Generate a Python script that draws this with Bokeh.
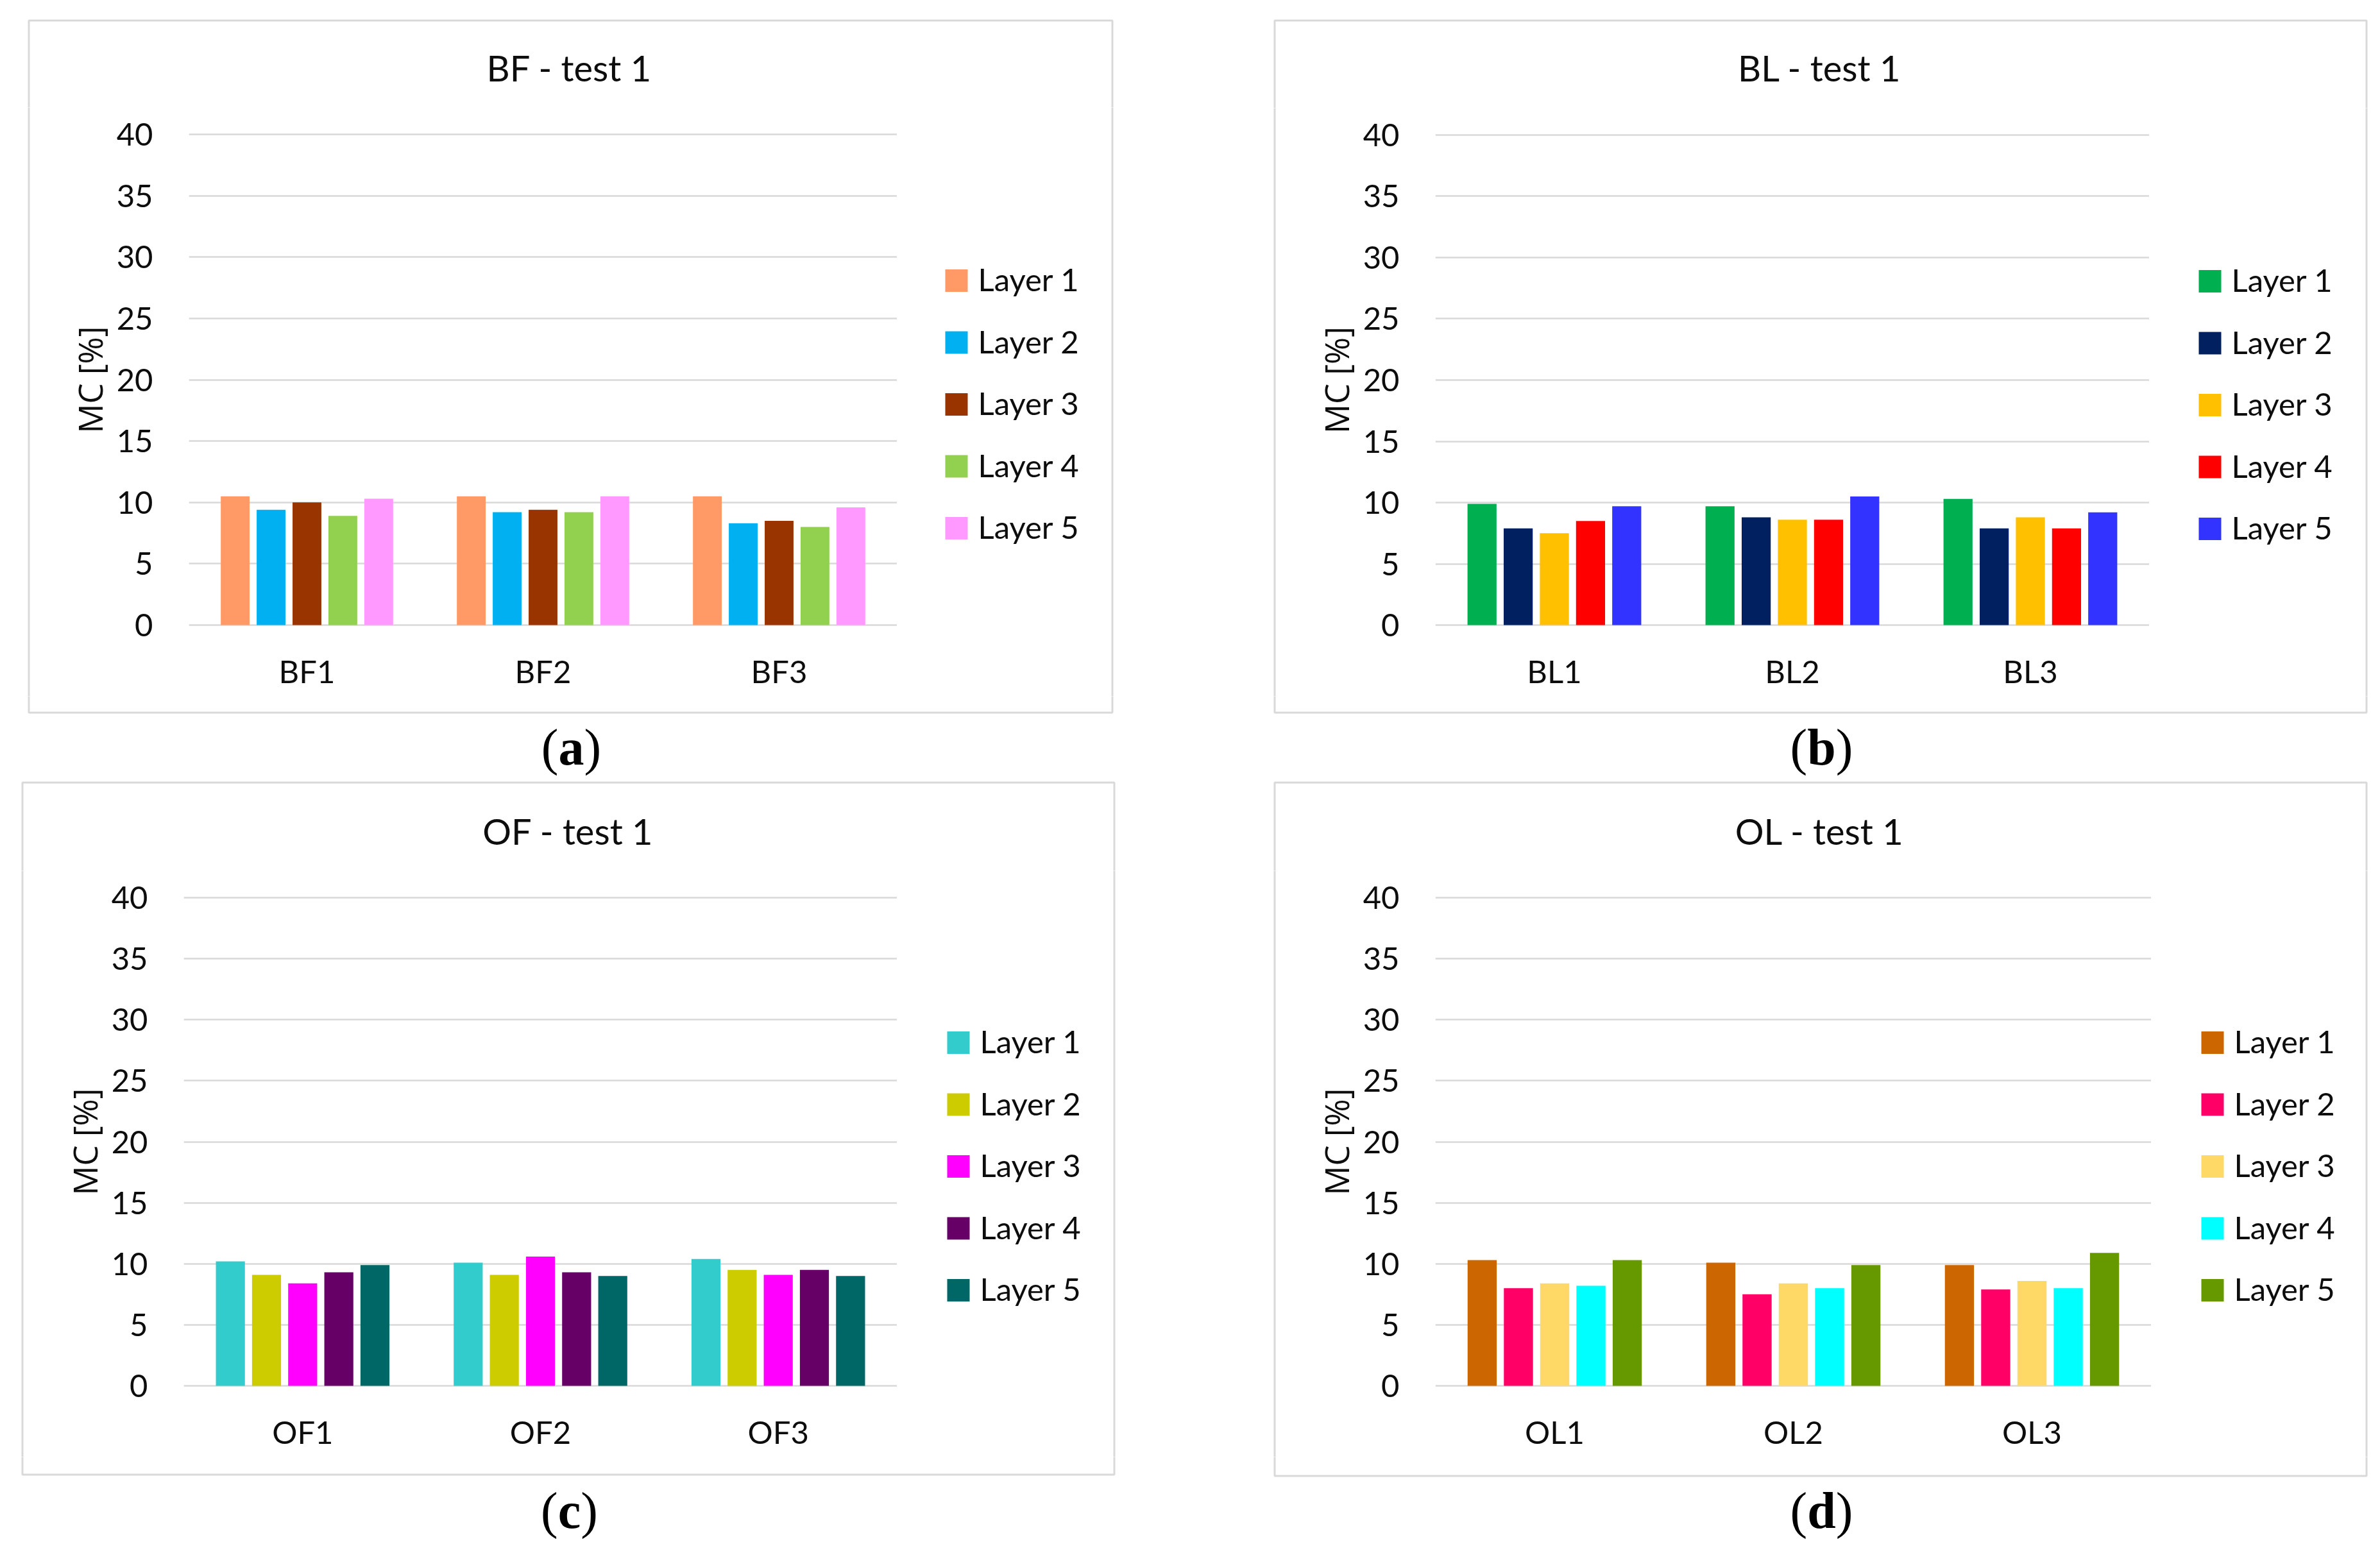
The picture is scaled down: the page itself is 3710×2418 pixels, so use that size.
from bokeh.plotting import figure
from bokeh.models import FactorRange, Range1d, ColumnDataSource, FixedTicker
from bokeh.core.properties import value
from bokeh.transform import dodge
from bokeh.layouts import column, row
from bokeh.embed import file_html
from bokeh.resources import INLINE

# ---------------- data ----------------
layer_names = ["Layer 1", "Layer 2", "Layer 3", "Layer 4", "Layer 5"]
y_ticks = [0, 5, 10, 15, 20, 25, 30, 35, 40]

bf_categories = ["BF1", "BF2", "BF3"]
bf_layer1 = [10.5, 10.5, 10.5]
bf_layer2 = [9.4, 9.2, 8.3]
bf_layer3 = [10.0, 9.4, 8.5]
bf_layer4 = [8.9, 9.2, 8.0]
bf_layer5 = [10.3, 10.5, 9.6]
bf_colors = ["#FF9966", "#00B0F0", "#993300", "#92D050", "#FF99FF"]

bl_categories = ["BL1", "BL2", "BL3"]
bl_layer1 = [9.9, 9.7, 10.3]
bl_layer2 = [7.9, 8.8, 7.9]
bl_layer3 = [7.5, 8.6, 8.8]
bl_layer4 = [8.5, 8.6, 7.9]
bl_layer5 = [9.7, 10.5, 9.2]
bl_colors = ["#00B050", "#002060", "#FFC000", "#FF0000", "#3333FF"]

of_categories = ["OF1", "OF2", "OF3"]
of_layer1 = [10.2, 10.1, 10.4]
of_layer2 = [9.1, 9.1, 9.5]
of_layer3 = [8.4, 10.6, 9.1]
of_layer4 = [9.3, 9.3, 9.5]
of_layer5 = [9.9, 9.0, 9.0]
of_colors = ["#33CCCC", "#CCCC00", "#FF00FF", "#660066", "#006666"]

ol_categories = ["OL1", "OL2", "OL3"]
ol_layer1 = [10.3, 10.1, 9.9]
ol_layer2 = [8.0, 7.5, 7.9]
ol_layer3 = [8.4, 8.4, 8.6]
ol_layer4 = [8.2, 8.0, 8.0]
ol_layer5 = [10.3, 9.9, 10.9]
ol_colors = ["#CC6600", "#FF0066", "#FFD966", "#00FFFF", "#669900"]

titles = ["BF - test 1", "BL - test 1", "OF - test 1", "OL - test 1"]
captions = ["a", "b", "c", "d"]
y_label = "MC [%]"

# ---------------- layout (page pixels) ----------------
panels = [
    dict(box=(0, 0, 1852, 1214), frame=(43, 30, 1735, 1112), px=(294, 1398), mx0=90, mb=1085,
         y40=209, y0=974, title=(887, 127), leg_left=1473, leg_first=437, cap=(890, 1196)),
    dict(box=(1852, 0, 3694, 1214), frame=(1985, 30, 3690, 1112), px=(2237, 3350), mx0=2030, mb=1085,
         y40=210, y0=974, title=(2836, 127), leg_left=3427, leg_first=438, cap=(2839, 1196)),
    dict(box=(0, 1214, 1852, 2402), frame=(33, 1218, 1738, 2300), px=(286, 1398), mx0=80, mb=2271,
         y40=1399, y0=2160, title=(885, 1317), leg_left=1476, leg_first=1625, cap=(887, 2386)),
    dict(box=(1852, 1214, 3694, 2402), frame=(1985, 1218, 3690, 2302), px=(2237, 3353), mx0=2030, mb=2271,
         y40=1399, y0=2160, title=(2836, 1317), leg_left=3431, leg_first=1625, cap=(2839, 2386)),
]

datasets = [
    (bf_categories, [bf_layer1, bf_layer2, bf_layer3, bf_layer4, bf_layer5], bf_colors),
    (bl_categories, [bl_layer1, bl_layer2, bl_layer3, bl_layer4, bl_layer5], bl_colors),
    (of_categories, [of_layer1, of_layer2, of_layer3, of_layer4, of_layer5], of_colors),
    (ol_categories, [ol_layer1, ol_layer2, ol_layer3, ol_layer4, ol_layer5], ol_colors),
]

FONT = "Lato"
TXT = "#0d0d0d"
GRID = "#d9d9d9"
cap_widths = {"a": 0.5, "b": 0.556, "c": 0.444, "d": 0.556}
LEG_PITCH = 96.5
LEG_SQ = 35
LEG_GAP = 16
BASE_FIX = 0.4   # text-glyph baseline correction (fraction of font size)
TOP_PAD = 40     # room above the plot frame for the top tick label


def strip(x0, y0, x1, y1, frame):
    """A plain figure covering page region (x0,y0)-(x1,y1); data coords == page pixels."""
    f = figure(width=int(x1 - x0), height=int(y1 - y0), x_range=Range1d(x0, x1), y_range=Range1d(y1, y0),
               output_backend="svg", toolbar_location=None, x_axis_location=None, y_axis_location=None,
               min_border=0, title=None)
    f.frame_align = False
    f.outline_line_color = None
    f.background_fill_color = "white"
    f.border_fill_color = "white"
    f.grid.visible = False
    fl, ft, fr, fb = frame
    f.quad(left=fl + 1.5, right=fr - 1.5, top=ft + 1.5, bottom=fb - 1.5,
           fill_color=None, line_color=GRID, line_width=3)
    return f


def make_panel(g, data, title, letter):
    cats, series, colors = data
    bx0, by0, bx1, by1 = g["box"]
    pad = 0.1
    pxu = (g["y0"] - g["y40"]) / 40.0
    top = round(g["y40"] - pad * pxu)
    bot = round(g["y0"] + pad * pxu)
    left, right = g["px"]
    mx0, mb = g["mx0"], g["mb"]
    mt = top - TOP_PAD
    fr = g["frame"]

    # ---- main chart ----
    p = figure(width=int(right - mx0), height=int(mb - mt), x_range=FactorRange(*cats, range_padding=0),
               y_range=Range1d(-pad, 40 + pad), output_backend="svg", toolbar_location=None, title=None,
               min_border_left=int(left - mx0), min_border_right=0, min_border_top=TOP_PAD,
               min_border_bottom=int(mb - bot))
    p.frame_align = False
    p.outline_line_color = None
    p.background_fill_color = "white"
    p.border_fill_color = "white"

    pitch = 0.152
    bw = 0.122
    src = ColumnDataSource(dict(cat=cats, **{f"l{i}": s for i, s in enumerate(series)}))
    for i, col in enumerate(colors):
        p.vbar(x=dodge("cat", (i - 2) * pitch, range=p.x_range), top=f"l{i}", width=bw,
               bottom=0, source=src, fill_color=col, line_color=None)

    p.yaxis.ticker = FixedTicker(ticks=y_ticks)
    p.yaxis.axis_line_color = None
    p.yaxis.major_tick_line_color = None
    p.yaxis.minor_tick_line_color = None
    p.yaxis.major_tick_out = 0
    p.yaxis.major_tick_in = 0
    p.yaxis.major_label_standoff = 56
    p.yaxis.major_label_text_font = FONT
    p.yaxis.major_label_text_font_size = "49px"
    p.yaxis.major_label_text_color = TXT
    p.yaxis.axis_label = y_label
    p.yaxis.axis_label_text_font = "Open Sans"
    p.yaxis.axis_label_text_font_size = "51px"
    p.yaxis.axis_label_text_font_style = "normal"
    p.yaxis.axis_label_text_color = TXT
    p.yaxis.axis_label_standoff = 4

    p.xaxis.axis_line_color = None
    p.xaxis.major_tick_line_color = None
    p.xaxis.major_tick_out = 0
    p.xaxis.major_tick_in = 0
    p.xaxis.major_label_standoff = 40
    p.xaxis.major_label_text_font = FONT
    p.xaxis.major_label_text_font_size = "49px"
    p.xaxis.major_label_text_color = TXT

    p.xgrid.grid_line_color = None
    p.ygrid.grid_line_color = GRID
    p.ygrid.grid_line_width = 2.5

    # ---- title strip ----
    t = strip(bx0, by0, bx1, mt, fr)
    tx, ty = g["title"]
    t.text(x=[tx], y=[ty - BASE_FIX * 56], text=[title], text_font=value(FONT), text_font_size="56px",
           text_color=TXT, text_align="center", text_baseline="alphabetic")

    # ---- left strip ----
    lft = strip(bx0, mt, mx0, mb, fr)

    # ---- legend strip ----
    r = strip(right, mt, bx1, mb, fr)
    centers = [g["leg_first"] + i * LEG_PITCH for i in range(len(layer_names))]
    r.quad(left=[g["leg_left"]] * 5, right=[g["leg_left"] + LEG_SQ] * 5,
           top=[c - LEG_SQ / 2 for c in centers], bottom=[c + LEG_SQ / 2 for c in centers],
           fill_color=colors, line_color=None)
    r.text(x=[g["leg_left"] + LEG_SQ + LEG_GAP] * 5, y=[c + 17.5 - BASE_FIX * 49 for c in centers],
           text=layer_names, text_font=value(FONT), text_font_size="49px", text_color=TXT,
           text_align="left", text_baseline="alphabetic")

    # ---- bottom strip with caption ----
    b = strip(bx0, mb, bx1, by1, fr)
    capx, capy = g["cap"]
    fs = 80
    half = cap_widths[letter] * fs / 2
    yb = capy - BASE_FIX * fs
    b.text(x=[capx - half, capx + half], y=[yb, yb], text=["(", ")"],
           text_font=value("Liberation Serif"), text_font_size=f"{fs}px", text_color="black",
           text_align=["right", "left"], text_baseline="alphabetic")
    b.text(x=[capx], y=[yb], text=[letter], text_font=value("Liberation Serif"),
           text_font_size=f"{fs}px", text_font_style="bold", text_color="black",
           text_align="center", text_baseline="alphabetic")

    return column(t, row(lft, p, r, spacing=0), b, spacing=0)


cols = [make_panel(panels[i], datasets[i], titles[i], captions[i]) for i in range(4)]
layout = column(row(cols[0], cols[1], spacing=0), row(cols[2], cols[3], spacing=0), spacing=0)

open("out.html", "w").write(file_html(layout, INLINE))
